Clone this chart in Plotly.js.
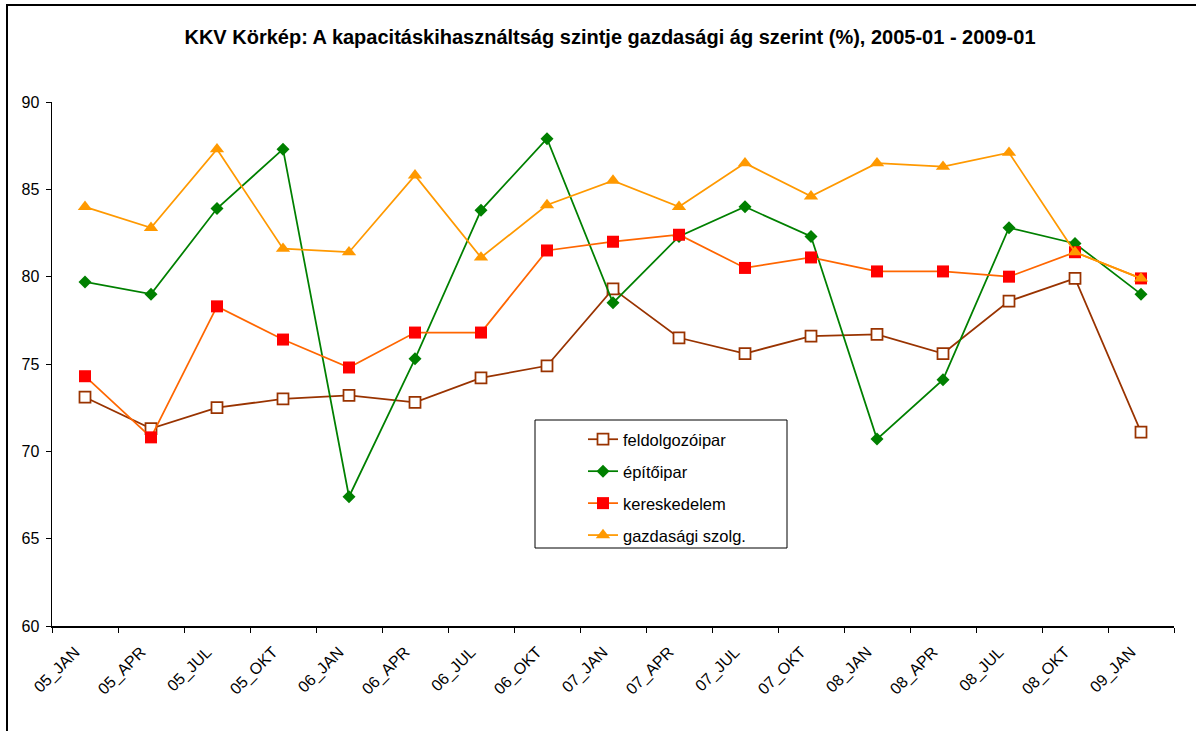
<!DOCTYPE html>
<html>
<head>
<meta charset="utf-8">
<script src="https://cdn.plot.ly/plotly-3.0.1.min.js"></script>
<style>
  html, body { margin: 0; padding: 0; background: #ffffff; }
  #wrap { position: relative; width: 1196px; height: 731px; overflow: hidden; }
  #chart { position: absolute; left: 0; top: 0; width: 1196px; height: 731px; }
  #frame { position: absolute; left: 6px; top: 4px; width: 1400px; height: 1000px;
           border-top: 2px solid #000; border-left: 2px solid #000; pointer-events: none; }
</style>
</head>
<body>
<div id="wrap">
  <div id="chart"></div>
  <div id="frame"></div>
</div>
<script>
const categories = ['05_JAN','05_APR','05_JUL','05_OKT','06_JAN','06_APR','06_JUL','06_OKT',
                    '07_JAN','07_APR','07_JUL','07_OKT','08_JAN','08_APR','08_JUL','08_OKT','09_JAN'];
const feldolgozoipar = [73.1, 71.3, 72.5, 73.0, 73.2, 72.8, 74.2, 74.9, 79.3, 76.5, 75.6, 76.6, 76.7, 75.6, 78.6, 79.9, 71.1];
const epitoipar      = [79.7, 79.0, 83.9, 87.3, 67.4, 75.3, 83.8, 87.9, 78.5, 82.3, 84.0, 82.3, 70.7, 74.1, 82.8, 81.9, 79.0];
const kereskedelem   = [74.3, 70.8, 78.3, 76.4, 74.8, 76.8, 76.8, 81.5, 82.0, 82.4, 80.5, 81.1, 80.3, 80.3, 80.0, 81.4, 79.9];
const gazdasagi      = [84.0, 82.8, 87.3, 81.6, 81.4, 85.8, 81.1, 84.1, 85.5, 84.0, 86.5, 84.6, 86.5, 86.3, 87.1, 81.4, 79.9];
const seriesNames = ['feldolgozóipar', 'építőipar', 'kereskedelem', 'gazdasági szolg.'];
const yTicks = [60, 65, 70, 75, 80, 85, 90];

const FONT = 'Liberation Sans, Arial, sans-serif';

const traces = [
  { x: categories, y: feldolgozoipar, name: seriesNames[0], legendgroup: 'a', type: 'scatter', mode: 'lines+markers',
    line: { color: '#993300', width: 1.75 },
    marker: { symbol: 'square', size: 11, color: '#ffffff', line: { color: '#993300', width: 1.75 } } },
  { x: categories, y: epitoipar, name: seriesNames[1], legendgroup: 'b', type: 'scatter', mode: 'lines+markers',
    line: { color: '#008000', width: 1.75 },
    marker: { symbol: 'diamond', size: 10, color: '#008000' } },
  { x: categories, y: kereskedelem, name: seriesNames[2], legendgroup: 'c', type: 'scatter', mode: 'lines+markers',
    line: { color: '#FF6600', width: 1.75 },
    marker: { symbol: 'square', size: 12, color: '#FF0000' } },
  { x: categories, y: gazdasagi, name: seriesNames[3], legendgroup: 'd', type: 'scatter', mode: 'lines+markers',
    line: { color: '#FF9900', width: 1.75 },
    marker: { symbol: 'triangle-up', size: 12.5, color: '#FF9900' } }
];

const L = 52, R = 1174, T = 102, B = 626;
const px = v => (v - L) / (R - L);
const py = v => (B - v) / (B - T);

const layout = {
  width: 1196, height: 731,
  paper_bgcolor: 'rgba(0,0,0,0)', plot_bgcolor: 'rgba(0,0,0,0)',
  margin: { l: L, r: 1196 - R, t: T, b: 731 - B, pad: 0 },
  font: { family: FONT, size: 16, color: '#000' },
  title: { text: 'KKV Körkép: A kapacitáskihasználtság szintje gazdasági ág szerint (%), 2005-01 - 2009-01',
           font: { family: FONT, size: 20, color: '#000', weight: 'bold' },
           x: 610 / 1196, xanchor: 'center', y: 1 - 37 / 731, yanchor: 'middle', xref: 'container', yref: 'container' },
  xaxis: {
    type: 'category', range: [-0.5, categories.length - 0.5],
    tickson: 'boundaries', ticks: 'outside', ticklen: 5, tickcolor: '#000', tickwidth: 1,
    showline: true, linecolor: '#000', linewidth: 1.5, showgrid: false, zeroline: false,
    tickangle: -45, tickfont: { family: FONT, size: 16, color: '#000' },
    ticklabelshift: -10, ticklabelstandoff: 9
  },
  yaxis: {
    range: [60, 90], tickvals: yTicks, ticktext: yTicks.map(String),
    ticks: 'outside', ticklen: 5, tickcolor: '#000', tickwidth: 1,
    showline: true, linecolor: '#000', linewidth: 1.5, showgrid: false, zeroline: false,
    tickfont: { family: FONT, size: 16, color: '#000' }, ticklabelstandoff: 3
  },
  showlegend: true,
  legend: {
    x: px(583), xanchor: 'left', y: py(422), yanchor: 'top',
    bgcolor: 'rgba(0,0,0,0)', borderwidth: 0,
    font: { family: FONT, size: 16.5, color: '#000' },
    traceorder: 'grouped', tracegroupgap: 7.5
  },
  shapes: [
    { type: 'rect', xref: 'paper', yref: 'paper', x0: px(535), x1: px(787), y0: py(548), y1: py(420),
      line: { color: '#000', width: 1 }, fillcolor: 'rgba(255,255,255,1)', layer: 'below' }
  ]
};

Plotly.newPlot('chart', traces, layout, { displayModeBar: false, staticPlot: true });
</script>
</body>
</html>
